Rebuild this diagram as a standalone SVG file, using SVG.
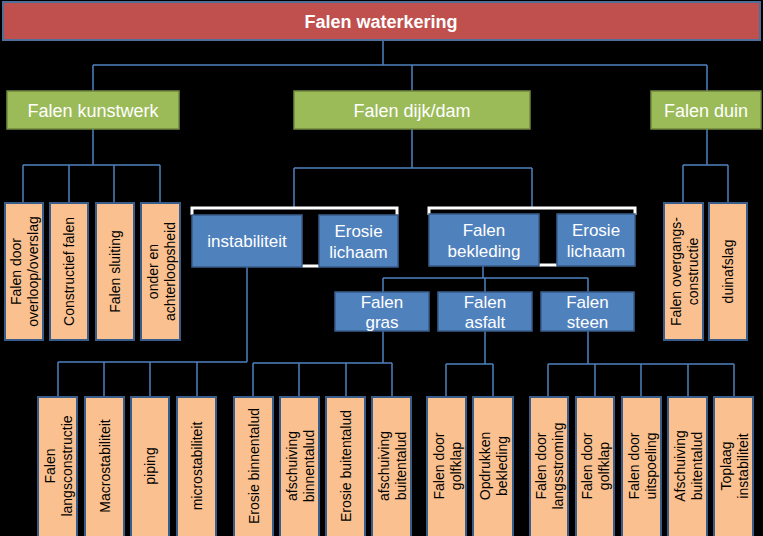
<svg xmlns="http://www.w3.org/2000/svg" width="763" height="536" viewBox="0 0 763 536">
<style>
.bg{fill:#000}
.red{fill:#C0504D;stroke:#4F6E9A;stroke-width:2}
.grn{fill:#9BBB59;stroke:#71893F;stroke-width:1.5}
.blu{fill:#4F81BD;stroke:#385D8A;stroke-width:1.5}
.org{fill:#FAC08F;stroke:#385D8A;stroke-width:2}
.ln{fill:none;stroke:#4F81BD;stroke-width:1.5}
.wl{fill:none;stroke:#FFFFFF;stroke-width:3}
text{font-family:"Liberation Sans",Arial,sans-serif;text-anchor:middle}
.tw{fill:#FFFFFF}
.tt{font-size:18px;font-weight:bold}
.tg{font-size:18px}
.tb{font-size:17px}
.to{font-size:14px;fill:#000}
</style>
<rect class="bg" x="0" y="0" width="763" height="536"/>
<g id="connectors">
<path class="ln" d="M383 40V65M93 65H707M93 65V91M412 65V91M707 65V91"/>
<path class="ln" d="M93 129V165M23 165H160M23 165V203M69 165V203M114 165V203M160 165V203"/>
<path class="ln" d="M412 129V168M294 168H532M294 168V208M532 168V208"/>
<path class="ln" d="M707 129V165M683 165H728M683 165V203M728 165V203"/>
<path class="ln" d="M247 267V362M58 362H247M58 362V397M104 362V397M150 362V397M197 362V397"/>
<path class="ln" d="M483 266V278M383 278H588M383 278V292M485 278V292M588 278V292"/>
<path class="ln" d="M383 331V363M253 363H392M253 363V397M299 363V397M346 363V397M392 363V397"/>
<path class="ln" d="M485 331V364M446 364H493M446 364V397M493 364V397"/>
<path class="ln" d="M588 331V364M548 364H734M548 364V397M595 364V397M641 364V397M688 364V397M734 364V397"/>
<path class="wl" d="M192 215V208H397V215M429 215V208H635V215M302 266H319M539 265H557"/>
</g>
<g id="falen-waterkering"><rect class="red" x="3" y="2" width="757" height="38"/><text class="tw tt" x="381" y="28">Falen waterkering</text></g>
<g id="falen-kunstwerk"><rect class="grn" x="7" y="91" width="172" height="38"/><text class="tw tg" x="93" y="117">Falen kunstwerk</text></g>
<g id="falen-dijk-dam"><rect class="grn" x="294" y="91" width="236" height="38"/><text class="tw tg" x="412" y="117">Falen dijk/dam</text></g>
<g id="falen-duin"><rect class="grn" x="651" y="91" width="110" height="38"/><text class="tw tg" x="706" y="117">Falen duin</text></g>
<g id="instabiliteit"><rect class="blu" x="192" y="215" width="110" height="52"/><text class="tw tb" x="247" y="247">instabiliteit</text></g>
<g id="erosie-lichaam-1"><rect class="blu" x="319" y="215" width="79" height="52"/><text class="tw tb" x="358.5" y="237">Erosie</text><text class="tw tb" x="358.5" y="258">lichaam</text></g>
<g id="falen-bekleding"><rect class="blu" x="429" y="214" width="110" height="52"/><text class="tw tb" x="484" y="236">Falen</text><text class="tw tb" x="484" y="257">bekleding</text></g>
<g id="erosie-lichaam-2"><rect class="blu" x="557" y="214" width="78" height="52"/><text class="tw tb" x="596" y="236">Erosie</text><text class="tw tb" x="596" y="257">lichaam</text></g>
<g id="falen-gras"><rect class="blu" x="335" y="292" width="94" height="39"/><text class="tw tb" x="382" y="308">Falen</text><text class="tw tb" x="382" y="328">gras</text></g>
<g id="falen-asfalt"><rect class="blu" x="438" y="292" width="94" height="39"/><text class="tw tb" x="485" y="308">Falen</text><text class="tw tb" x="485" y="328">asfalt</text></g>
<g id="falen-steen"><rect class="blu" x="541" y="292" width="93" height="39"/><text class="tw tb" x="587.5" y="308">Falen</text><text class="tw tb" x="587.5" y="328">steen</text></g>
<g id="k1"><rect class="org" x="5" y="203" width="38" height="137"/><g transform="translate(24 271.5) rotate(-90)"><text class="to" y="-3">Falen door</text><text class="to" y="14">overloop/overslag</text></g></g>
<g id="k2"><rect class="org" x="50" y="203" width="38" height="137"/><g transform="translate(69 271.5) rotate(-90)"><text class="to" y="5">Constructief falen</text></g></g>
<g id="k3"><rect class="org" x="96" y="203" width="38" height="137"/><g transform="translate(115 271.5) rotate(-90)"><text class="to" y="5">Falen sluiting</text></g></g>
<g id="k4"><rect class="org" x="141" y="203" width="39" height="137"/><g transform="translate(160.5 271.5) rotate(-90)"><text class="to" y="-3">onder en</text><text class="to" y="14">achterloopsheid</text></g></g>
<g id="d1"><rect class="org" x="664" y="203" width="39" height="137"/><g transform="translate(683.5 271.5) rotate(-90)"><text class="to" y="-3">Falen overgangs-</text><text class="to" y="14">constructie</text></g></g>
<g id="d2"><rect class="org" x="709" y="203" width="38" height="137"/><g transform="translate(728 271.5) rotate(-90)"><text class="to" y="5">duinafslag</text></g></g>
<g id="b1"><rect class="org" x="38" y="397" width="39" height="145"/><g transform="translate(57.5 466) rotate(-90)"><text class="to" y="-3">Falen</text><text class="to" y="14">langsconstructie</text></g></g>
<g id="b2"><rect class="org" x="85" y="397" width="39" height="145"/><g transform="translate(104.5 466) rotate(-90)"><text class="to" y="5">Macrostabiliteit</text></g></g>
<g id="b3"><rect class="org" x="131" y="397" width="38" height="145"/><g transform="translate(150 466) rotate(-90)"><text class="to" y="5">piping</text></g></g>
<g id="b4"><rect class="org" x="177" y="397" width="39" height="145"/><g transform="translate(196.5 466) rotate(-90)"><text class="to" y="5">microstabiliteit</text></g></g>
<g id="b5"><rect class="org" x="234" y="397" width="39" height="145"/><g transform="translate(253.5 466) rotate(-90)"><text class="to" y="5">Erosie binnentalud</text></g></g>
<g id="b6"><rect class="org" x="280" y="397" width="39" height="145"/><g transform="translate(299.5 466) rotate(-90)"><text class="to" y="-3">afschuiving</text><text class="to" y="14">binnentalud</text></g></g>
<g id="b7"><rect class="org" x="326" y="397" width="39" height="145"/><g transform="translate(345.5 466) rotate(-90)"><text class="to" y="5">Erosie buitentalud</text></g></g>
<g id="b8"><rect class="org" x="372" y="397" width="39" height="145"/><g transform="translate(391.5 466) rotate(-90)"><text class="to" y="-3">afschuiving</text><text class="to" y="14">buitentalud</text></g></g>
<g id="b9"><rect class="org" x="427" y="397" width="39" height="145"/><g transform="translate(446.5 466) rotate(-90)"><text class="to" y="-3">Falen door</text><text class="to" y="14">golfklap</text></g></g>
<g id="b10"><rect class="org" x="473" y="397" width="40" height="145"/><g transform="translate(493 466) rotate(-90)"><text class="to" y="-3">Opdrukken</text><text class="to" y="14">bekleding</text></g></g>
<g id="b11"><rect class="org" x="530" y="397" width="38" height="145"/><g transform="translate(549 466) rotate(-90)"><text class="to" y="-3">Falen door</text><text class="to" y="14">langsstroming</text></g></g>
<g id="b12"><rect class="org" x="576" y="397" width="38" height="145"/><g transform="translate(595 466) rotate(-90)"><text class="to" y="-3">Falen door</text><text class="to" y="14">golfklap</text></g></g>
<g id="b13"><rect class="org" x="622" y="397" width="39" height="145"/><g transform="translate(641.5 466) rotate(-90)"><text class="to" y="-3">Falen door</text><text class="to" y="14">uitspoeling</text></g></g>
<g id="b14"><rect class="org" x="668" y="397" width="39" height="145"/><g transform="translate(687.5 466) rotate(-90)"><text class="to" y="-3">Afschuiving</text><text class="to" y="14">buitentalud</text></g></g>
<g id="b15"><rect class="org" x="714" y="397" width="39" height="145"/><g transform="translate(733.5 466) rotate(-90)"><text class="to" y="-3">Toplaag</text><text class="to" y="14">instabiliteit</text></g></g>
</svg>
